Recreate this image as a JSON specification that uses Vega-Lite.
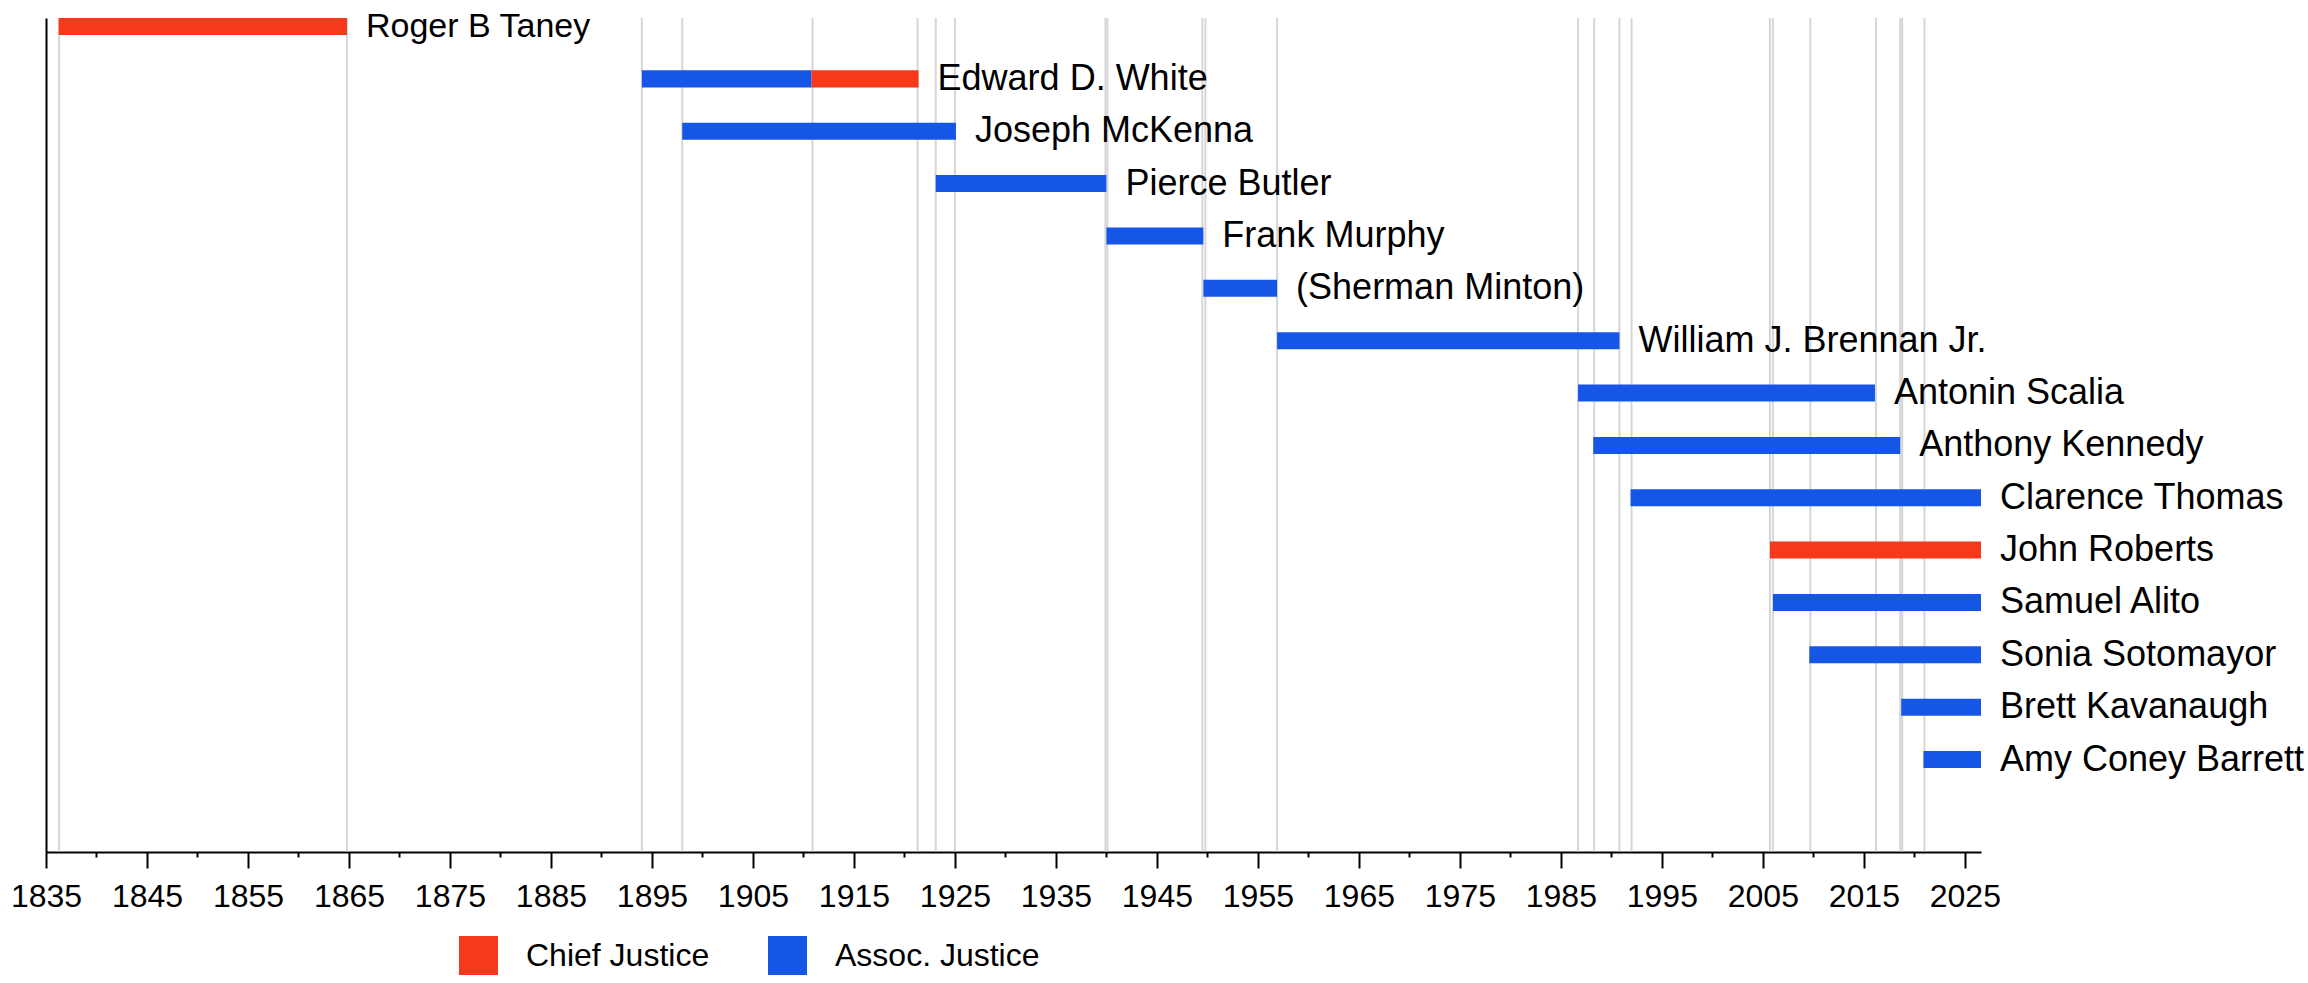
{
  "$schema": "https://vega.github.io/schema/vega-lite/v6.json",
  "autosize": {"type": "none"},
  "padding": {"left": 46, "top": 18, "right": 327, "bottom": 131},
  "width": 1935,
  "height": 834,
  "config": {
    "font": "Liberation Sans",
    "view": {"stroke": null},
    "axis": {"labelColor": "#000000", "domainColor": "#000000", "tickColor": "#000000"},
    "axisX": {
      "title": null,
      "values": [1835,1836,1837,1838,1839,1840,1841,1842,1843,1844,1845,1846,1847,1848,1849,1850,1851,1852,1853,1854,1855,1856,1857,1858,1859,1860,1861,1862,1863,1864,1865,1866,1867,1868,1869,1870,1871,1872,1873,1874,1875,1876,1877,1878,1879,1880,1881,1882,1883,1884,1885,1886,1887,1888,1889,1890,1891,1892,1893,1894,1895,1896,1897,1898,1899,1900,1901,1902,1903,1904,1905,1906,1907,1908,1909,1910,1911,1912,1913,1914,1915,1916,1917,1918,1919,1920,1921,1922,1923,1924,1925,1926,1927,1928,1929,1930,1931,1932,1933,1934,1935,1936,1937,1938,1939,1940,1941,1942,1943,1944,1945,1946,1947,1948,1949,1950,1951,1952,1953,1954,1955,1956,1957,1958,1959,1960,1961,1962,1963,1964,1965,1966,1967,1968,1969,1970,1971,1972,1973,1974,1975,1976,1977,1978,1979,1980,1981,1982,1983,1984,1985,1986,1987,1988,1989,1990,1991,1992,1993,1994,1995,1996,1997,1998,1999,2000,2001,2002,2003,2004,2005,2006,2007,2008,2009,2010,2011,2012,2013,2014,2015,2016,2017,2018,2019,2020,2021,2022,2023,2024,2025,2026],
      "format": "d",
      "labelExpr": "(datum.value - 1835) % 10 === 0 ? datum.label : ''",
      "labelOverlap": false,
      "labelFlush": false,
      "labelFontSize": 32,
      "labelPadding": 13,
      "grid": false,
      "domainWidth": 2,
      "tickWidth": 2,
      "tickSize": {"condition": {"test": "(datum.value - 1835) % 10 === 0", "value": 16}, "value": 5}
    }
  },
  "datasets": {
    "terms": [
      {"name": "Roger B Taney", "start": 1836.25, "end": 1864.8, "role": "Chief Justice"},
      {"name": "Edward D. White", "start": 1894.0, "end": 1910.8, "role": "Assoc. Justice"},
      {"name": "Edward D. White", "start": 1910.8, "end": 1921.4, "role": "Chief Justice"},
      {"name": "Joseph McKenna", "start": 1898.0, "end": 1925.1, "role": "Assoc. Justice"},
      {"name": "Pierce Butler", "start": 1923.1, "end": 1940.0, "role": "Assoc. Justice"},
      {"name": "Frank Murphy", "start": 1940.0, "end": 1949.6, "role": "Assoc. Justice"},
      {"name": "(Sherman Minton)", "start": 1949.6, "end": 1956.9, "role": "Assoc. Justice"},
      {"name": "William J. Brennan Jr.", "start": 1956.9, "end": 1990.8, "role": "Assoc. Justice"},
      {"name": "Antonin Scalia", "start": 1986.7, "end": 2016.1, "role": "Assoc. Justice"},
      {"name": "Anthony Kennedy", "start": 1988.2, "end": 2018.6, "role": "Assoc. Justice"},
      {"name": "Clarence Thomas", "start": 1991.9, "end": 2026.6, "role": "Assoc. Justice"},
      {"name": "John Roberts", "start": 2005.7, "end": 2026.6, "role": "Chief Justice"},
      {"name": "Samuel Alito", "start": 2006.0, "end": 2026.6, "role": "Assoc. Justice"},
      {"name": "Sonia Sotomayor", "start": 2009.6, "end": 2026.6, "role": "Assoc. Justice"},
      {"name": "Brett Kavanaugh", "start": 2018.7, "end": 2026.6, "role": "Assoc. Justice"},
      {"name": "Amy Coney Barrett", "start": 2020.9, "end": 2026.6, "role": "Assoc. Justice"}
    ],
    "lines": [
      {"year": 1836.3}, {"year": 1864.8}, {"year": 1894.0}, {"year": 1898.0},
      {"year": 1910.9}, {"year": 1921.3}, {"year": 1923.1}, {"year": 1925.0},
      {"year": 1939.9}, {"year": 1940.1}, {"year": 1949.5}, {"year": 1949.8},
      {"year": 1956.9}, {"year": 1986.7}, {"year": 1988.3}, {"year": 1990.8},
      {"year": 1992.0}, {"year": 2005.7}, {"year": 2006.0}, {"year": 2009.7},
      {"year": 2016.2}, {"year": 2018.6}, {"year": 2018.8}, {"year": 2021.0}
    ]
  },
  "layer": [
    {
      "data": {"name": "lines"},
      "mark": {"type": "rule", "color": "#b4b4b4", "strokeWidth": 2, "opacity": 0.55},
      "encoding": {
        "x": {"field": "year", "type": "quantitative", "title": null,
              "scale": {"domain": [1835, 2026.6], "nice": false, "zero": false}}
      }
    },
    {
      "data": {"name": "terms"},
      "mark": {"type": "bar"},
      "encoding": {
        "x": {
          "field": "start", "type": "quantitative", "title": null,
          "scale": {"domain": [1835, 2026.6], "nice": false, "zero": false}
        },
        "x2": {"field": "end"},
        "y": {
          "field": "name", "type": "nominal",
          "scale": {
            "domain": ["Roger B Taney", "Edward D. White", "Joseph McKenna", "Pierce Butler", "Frank Murphy", "(Sherman Minton)", "William J. Brennan Jr.", "Antonin Scalia", "Anthony Kennedy", "Clarence Thomas", "John Roberts", "Samuel Alito", "Sonia Sotomayor", "Brett Kavanaugh", "Amy Coney Barrett"],
            "paddingInner": 0.675, "paddingOuter": 0.8015, "align": 0, "round": false
          },
          "axis": {"title": null, "labels": false, "ticks": false, "grid": false, "domainWidth": 2, "domainColor": "#000000"}
        },
        "color": {
          "field": "role", "type": "nominal",
          "scale": {"domain": ["Chief Justice", "Assoc. Justice"], "range": ["#f5391a", "#1656e6"]},
          "legend": {
            "title": null, "orient": "none", "direction": "horizontal",
            "legendX": 413, "legendY": 918, "padding": 0,
            "symbolType": "square", "symbolSize": 1521, "symbolStrokeWidth": 0, "symbolOpacity": 1,
            "labelFontSize": 32, "labelColor": "#000000", "labelOffset": 28, "labelLimit": 0, "columnPadding": 58
          }
        }
      }
    },
    {
      "data": {"name": "terms"},
      "transform": [{"aggregate": [{"op": "max", "field": "end", "as": "last"}], "groupby": ["name"]}],
      "mark": {"type": "text", "align": "left", "baseline": "middle", "dx": 19, "color": "#000000"},
      "encoding": {
        "x": {"field": "last", "type": "quantitative", "title": null},
        "y": {"field": "name", "type": "nominal"},
        "text": {"field": "name"},
        "size": {"condition": {"test": "datum.name === 'Roger B Taney'", "value": 34}, "value": 36}
      }
    }
  ]
}
